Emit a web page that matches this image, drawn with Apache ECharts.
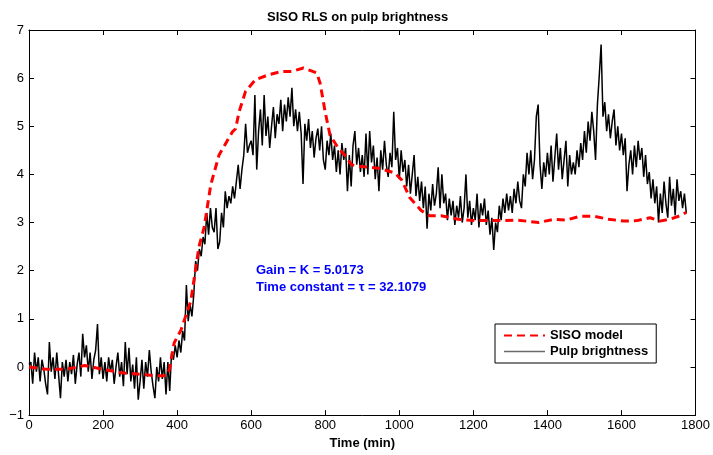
<!DOCTYPE html>
<html>
<head>
<meta charset="utf-8">
<script src="https://cdn.jsdelivr.net/npm/echarts@6/dist/echarts.min.js"></script>
<style>
    html, body { margin: 0; padding: 0; background: #fff; }
    #chart { width: 713px; height: 455px; }
</style>
</head>
<body>
<div id="chart"></div>
<script>
    // SISO model (red dashed)
    let modelTime = [0, 50, 100, 150, 200, 250, 300, 340, 370, 379, 392, 410, 437, 459, 473, 491, 513, 549, 558, 567, 585, 612, 647, 683, 710, 741, 777, 786, 800, 813, 836, 853, 871, 889, 943, 988, 1006, 1028, 1059, 1082, 1113, 1158, 1203, 1265, 1319, 1377, 1418, 1449, 1489, 1525, 1565, 1606, 1642, 1677, 1704, 1731, 1758, 1775];
    let modelValue = [0, -0.05, -0.05, 0.03, -0.05, -0.12, -0.15, -0.18, -0.18, -0.06, 0.5, 0.76, 1.37, 2.5, 2.9, 3.79, 4.4, 4.88, 4.95, 5.29, 5.73, 5.97, 6.07, 6.14, 6.14, 6.21, 6.11, 5.9, 5.29, 4.81, 4.54, 4.4, 4.2, 4.17, 4.13, 4.03, 3.89, 3.52, 3.25, 3.14, 3.14, 3.07, 3.04, 3.04, 3.05, 3.0, 3.07, 3.05, 3.13, 3.13, 3.07, 3.03, 3.04, 3.1, 3.03, 3.07, 3.14, 3.21];

    // measured pulp brightness (black), one value every 5 min starting at 0
    let pulpStep = 5;
    let pulpValue = [
        0.05, 0.1, -0.35, 0.3, -0.1, 0.2, -0.3, 0.15, -0.05, -0.35, -0.57, 0.52, -0.1, 0.2, -0.25, 0.3, 0.31, -0.65, 0.1, -0.2,
        0.15, -0.3, 0.1, -0.15, 0.25, -0.35, 0.05, 0.3, -0.2, 0.69, 0.2, 0.45, -0.1, 0.3, -0.25, 0.15, 0.35, 0.89, -0.15, 0.2,
        -0.25, 0.1, -0.3, 0.2, -0.1, 0.15, -0.35, 0.0, 0.3, -0.2, 0.1, -0.4, 0.52, -0.15, 0.4, -0.3, 0.05, -0.45, 0.2, -0.68,
        -0.3, 0.15, -0.45, 0.1, -0.2, 0.35, -0.1, -0.4, -0.65, 0.0, -0.3, 0.2, -0.25, 0.1, -0.57, 0.1, -0.5, 0.3, 0.15, 0.45,
        0.2, 0.55, 0.3, 0.75, 0.55, 1.7, 0.95, 1.3, 1.05, 1.5, 2.2, 2.0, 2.45, 2.3, 2.7, 2.55, 3.2, 2.75, 3.3, 2.9,
        2.8, 3.3, 2.45, 2.6, 3.2, 2.9, 3.65, 3.3, 3.55, 3.4, 3.75, 3.5, 3.85, 4.2, 3.7, 4.1, 4.4, 5.05, 4.45, 4.6,
        4.7, 4.4, 5.65, 4.1, 4.9, 5.35, 4.6, 5.65, 4.8, 5.2, 4.55, 5.0, 5.4, 4.75, 5.25, 5.05, 5.55, 4.9, 5.45, 5.1,
        5.6, 5.2, 5.8, 5.0, 5.35, 4.9, 5.3, 4.85, 3.8, 5.05, 4.7, 5.15, 4.55, 4.9, 4.35, 4.75, 4.95, 4.5, 5.0, 4.3,
        4.1, 4.7, 4.4, 4.85, 4.3, 4.6, 4.05, 4.5, 4.0, 4.65, 4.3, 4.55, 3.65, 4.4, 3.75, 4.6, 4.9, 4.2, 4.55, 4.05,
        4.4, 3.95, 4.85, 4.0, 4.9, 4.25, 4.6, 3.9, 4.35, 3.65, 4.5, 4.1, 4.7, 4.2, 3.95, 4.45, 4.15, 5.3, 4.3, 4.55,
        3.9, 4.5, 4.05, 4.3, 3.75, 4.2, 3.6, 4.0, 4.4, 3.55, 3.95, 3.45, 3.85, 3.3, 3.75, 2.87, 3.6, 3.25, 3.8, 3.35,
        3.6, 4.15, 3.3, 4.0, 3.4, 3.6, 3.05, 3.5, 3.15, 3.45, 2.95, 3.35, 3.1, 3.55, 3.0, 3.3, 4.0, 3.1, 3.45, 2.95,
        3.3, 3.05, 3.6, 2.9, 3.4, 3.15, 3.5, 2.95, 3.25, 2.75, 3.1, 2.43, 3.0, 2.8, 3.35, 3.05, 3.5, 3.2, 3.6, 3.25,
        3.55, 3.2, 3.7, 3.4, 3.85, 3.45, 3.3, 4.0, 3.75, 4.45, 4.0, 4.5, 3.9, 4.3, 5.2, 5.45, 4.2, 3.7, 4.25, 3.95,
        4.45, 4.0, 4.6, 3.85, 4.35, 4.85, 4.1, 4.55, 3.9, 4.3, 4.7, 3.75, 4.4, 4.0, 4.25, 4.0, 4.5, 4.15, 4.65, 4.3,
        4.9, 4.45, 5.1, 4.7, 5.3, 4.9, 4.3, 5.45, 6.05, 6.7, 5.2, 5.5, 4.9, 5.25, 4.75, 5.1, 5.35, 4.6, 5.0, 4.5,
        4.85, 4.4, 4.75, 3.65, 4.2, 4.5, 4.0, 4.6, 4.15, 4.7, 4.3, 4.55, 3.95, 4.4, 3.8, 4.05, 3.5, 3.9, 3.4, 3.75,
        3.0, 3.6, 3.2, 3.85, 3.4, 3.1, 3.95, 3.35, 3.7, 3.15, 3.9, 3.45, 3.65, 3.3, 3.6, 3.2
    ];

    let xTicks = {min: 0, max: 1800, interval: 200};
    let yTicks = {min: -1, max: 7, interval: 1};

    let titleText = 'SISO RLS on pulp brightness';
    let xName = 'Time (min)';
    let noteLines = ['Gain = K = 5.0173', 'Time constant = \u03c4 = 32.1079'];

    let myChart = echarts.init(document.getElementById('chart'));

    let modelData = modelTime.map((t, i) => [t, modelValue[i]]);
    let pulpData = pulpValue.map((v, i) => [i * pulpStep, v]);

    let minus = v => String(v).replace('-', '\u2212');
    let font = 'Liberation Sans, Arial, Helvetica, sans-serif';

    let boxAxis = {
        axisLine: {show: true, onZero: false, lineStyle: {color: '#000', width: 1}},
        axisTick: {show: true, inside: true, length: 5, lineStyle: {color: '#000'}},
        splitLine: {show: false}
    };

    let option = {
        animation: false,
        backgroundColor: '#fff',
        textStyle: {fontFamily: font},
        title: {
            text: titleText,
            left: 262,
            top: 6,
            textStyle: {fontSize: 13, fontWeight: 'bold', color: '#000', fontFamily: font}
        },
        grid: {left: 29, top: 30, right: 14, bottom: 34},
        legend: {
            orient: 'vertical',
            left: 495,
            top: 324,
            padding: [5, 8, 5, 8],
            itemGap: 3,
            itemWidth: 41,
            itemHeight: 14,
            borderColor: '#000',
            borderWidth: 1,
            borderRadius: 0,
            backgroundColor: '#fff',
            itemStyle: {opacity: 0},
            data: [
                {name: 'SISO model'},
                {name: 'Pulp brightness', lineStyle: {color: '#6a6a6a', width: 1.5}}
            ],
            textStyle: {fontSize: 13, fontWeight: 'bold', color: '#000', fontFamily: font}
        },
        xAxis: [
            Object.assign({
                type: 'value',
                position: 'bottom',
                name: xName,
                nameLocation: 'middle',
                nameGap: 18,
                nameTextStyle: {fontSize: 13, fontWeight: 'bold', color: '#000', fontFamily: font},
                axisLabel: {color: '#000', fontSize: 13, margin: 4, fontFamily: font, formatter: v => String(v)}
            }, xTicks, boxAxis),
            Object.assign({
                type: 'value',
                position: 'top',
                axisLabel: {show: false}
            }, xTicks, boxAxis)
        ],
        yAxis: [
            Object.assign({
                type: 'value',
                position: 'left',
                axisLabel: {color: '#000', fontSize: 13, margin: 5, fontFamily: font, formatter: minus}
            }, yTicks, boxAxis),
            Object.assign({
                type: 'value',
                position: 'right',
                axisLabel: {show: false}
            }, yTicks, boxAxis)
        ],
        graphic: noteLines.map((s, i) => ({
            type: 'text',
            left: 256,
            top: 264 + i * 17,
            style: {text: s, fill: '#0000ff', font: 'bold 13px ' + font}
        })),
        series: [
            {
                name: 'Pulp brightness',
                type: 'line',
                symbol: 'none',
                data: pulpData,
                itemStyle: {color: '#000'},
                lineStyle: {color: '#000', width: 1.5},
                z: 2
            },
            {
                name: 'SISO model',
                type: 'line',
                symbol: 'none',
                data: modelData,
                itemStyle: {color: '#ff0000'},
                lineStyle: {color: '#ff0000', width: 3, type: [8, 5]},
                z: 3
            }
        ]
    };

    myChart.setOption(option);
</script>
</body>
</html>
